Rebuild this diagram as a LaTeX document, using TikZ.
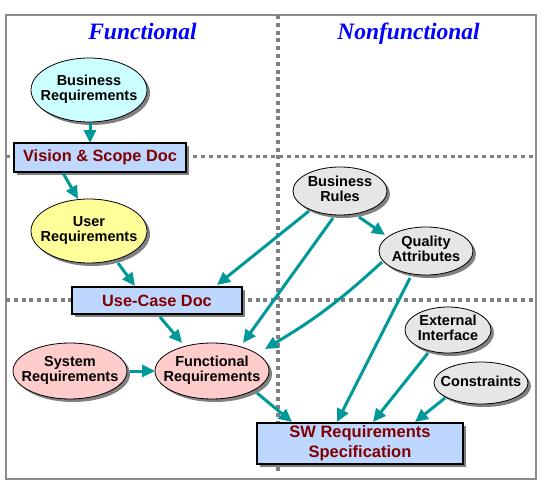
\documentclass[tikz,border=0pt]{standalone}
\usepackage{fontspec}
\setmainfont{Liberation Sans}
\newfontfamily\titlefont{Liberation Serif}
\usetikzlibrary{shapes.geometric,shadows,arrows.meta}
\definecolor{arrowteal}{RGB}{0,153,153}
\definecolor{boxblue}{RGB}{190,215,255}
\definecolor{docred}{RGB}{128,0,0}
\definecolor{cyanfill}{RGB}{204,255,255}
\definecolor{yellowfill}{RGB}{255,255,153}
\definecolor{pinkfill}{RGB}{255,204,204}
\definecolor{grayfill}{RGB}{230,230,230}
\definecolor{dotgray}{RGB}{128,128,128}
\definecolor{framegray}{RGB}{140,140,140}
\definecolor{titleblue}{RGB}{0,0,255}
\newcommand{\twol}[1]{\makebox[0pt]{\begin{tabular}{@{}c@{}}#1\end{tabular}}}
\tikzset{
  shad/.style={drop shadow={shadow xshift=3pt, shadow yshift=-3pt, fill=black!50, opacity=1}},
  ell/.style={ellipse, draw=black, line width=0.8pt, inner sep=0pt, shad,
    font=\bfseries\fontsize{14.5}{15}\selectfont},
  docbox/.style={rectangle, draw=black, line width=1.2pt, fill=boxblue, inner sep=0pt, shad,
    text=docred, align=center, font=\bfseries\fontsize{16.3}{20}\selectfont},
  arr/.style={draw=arrowteal, line width=3pt, -{Triangle[length=13pt,width=12pt]}},
  gridline/.style={draw=dotgray, line width=3.8pt, dash pattern=on 4pt off 3.8pt},
  title/.style={anchor=base, text=titleblue, font=\titlefont\bfseries\itshape\fontsize{23.5}{26}\selectfont}
}
\begin{document}
\begin{tikzpicture}[x=1pt,y=-1pt]
\useasboundingbox (0,0) rectangle (549,487);
\draw[framegray, line width=1.3pt] (6,15) rectangle (536,479);
\draw[gridline] (6,156.5) -- (536,156.5);
\draw[gridline] (6,300) -- (536,300);
\draw[gridline] (278,15) -- (278,473);

\node[title] (tf) at (142.5,39.3) {Functional};
\node[title] (tn) at (408.5,39.3) {Nonfunctional};

\node[ell, fill=cyanfill, minimum width=116pt, minimum height=64pt] (br) at (89,90) {\twol{Business\\Requirements}};
\node[docbox, minimum width=172pt, minimum height=29pt] (vsd) at (100,157.5) {Vision \& Scope Doc};
\node[ell, fill=yellowfill, minimum width=116pt, minimum height=64pt] (ur) at (89,231) {\twol{User\\Requirements}};
\node[docbox, minimum width=170pt, minimum height=27pt] (ucd) at (157,300.5) {Use-Case Doc};
\node[ell, fill=pinkfill, minimum width=114pt, minimum height=56pt] (sr) at (70,371) {\twol{System\\Requirements}};
\node[ell, fill=pinkfill, minimum width=114pt, minimum height=56pt] (fr) at (212,371) {\twol{Functional\\Requirements}};
\node[ell, fill=grayfill, minimum width=94pt, minimum height=48pt] (brules) at (340,191) {\twol{Business\\Rules}};
\node[ell, fill=grayfill, minimum width=94pt, minimum height=48pt] (qa) at (426,251) {\twol{Quality\\Attributes}};
\node[ell, fill=grayfill, minimum width=86pt, minimum height=46pt] (ei) at (448,330) {\twol{External\\Interface}};
\node[ell, fill=grayfill, minimum width=94pt, minimum height=42pt] (con) at (481,383) {\twol{Constraints}};
\node[docbox, minimum width=206pt, minimum height=41pt, font=\bfseries\fontsize{16.5}{20}\selectfont] (sw) at (360,443.5) {SW Requirements\\Specification};

\draw[arr] ([shift={(1,33)}]br.center) -- ([shift={(-10,-14.5)}]vsd.center);
\draw[arr] ([shift={(-37,15.5)}]vsd.center) -- ([shift={(-11,-32)}]ur.center);
\draw[arr] ([shift={(29,32)}]ur.center) -- ([shift={(-22,-14.5)}]ucd.center);
\draw[arr] ([shift={(-31,20)}]brules.center) -- ([shift={(60,-15.5)}]ucd.center);
\draw[arr] ([shift={(-7,27)}]brules.center) -- ([shift={(31,-28)}]fr.center);
\draw[arr] ([shift={(19,26)}]brules.center) -- ([shift={(-41,-16)}]qa.center);
\draw[arr] ([shift={(-44,11)}]qa.center) to[bend left=6] ([shift={(53,-22)}]fr.center);
\draw[arr] ([shift={(-16,27)}]qa.center) -- ([shift={(-23,-21.5)}]sw.center);
\draw[arr] ([shift={(3,16.5)}]ucd.center) -- ([shift={(-30,-28)}]fr.center);
\draw[arr] ([shift={(60,0)}]sr.center) -- ([shift={(-57,0)}]fr.center);
\draw[arr] ([shift={(45,22)}]fr.center) -- ([shift={(-68,-21.5)}]sw.center);
\draw[arr] ([shift={(-20,23)}]ei.center) -- ([shift={(13,-21.5)}]sw.center);
\draw[arr] ([shift={(-36,15)}]con.center) -- ([shift={(55,-21.5)}]sw.center);
\end{tikzpicture}
\end{document}
